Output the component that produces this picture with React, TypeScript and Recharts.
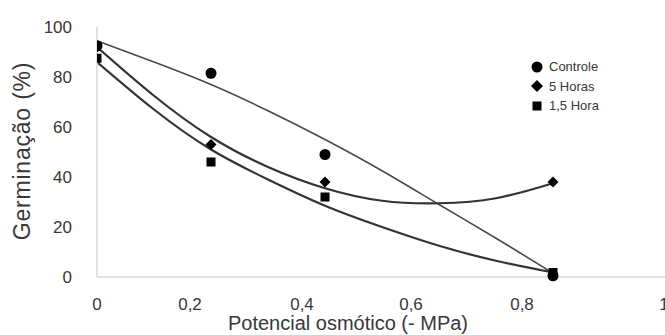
import React from "react";
import { ComposedChart, Line, Scatter, XAxis, YAxis } from "recharts";

// Observed points
const controlePts = [
  { x: 0, y: 92.5 },
  { x: 0.2, y: 81.5 },
  { x: 0.4, y: 49 },
  { x: 0.8, y: 0.5 },
];
const horas5Pts = [
  { x: 0, y: 92 },
  { x: 0.2, y: 53 },
  { x: 0.4, y: 38 },
  { x: 0.8, y: 38 },
];
const hora15Pts = [
  { x: 0, y: 87.5 },
  { x: 0.2, y: 46 },
  { x: 0.4, y: 32 },
  { x: 0.8, y: 1.8 },
];

// Trend curves
const trendX = [0, 0.1, 0.2, 0.3, 0.4, 0.5, 0.6, 0.7, 0.8];
const controleTrend = [94.5, 86, 77, 66.5, 55, 42.5, 29, 15.5, 1.5];
const horas5Trend = [92, 72.5, 56, 44, 35.5, 30.5, 29.5, 31.5, 37.5];
const hora15Trend = [86, 67, 51, 39, 28.5, 20, 12.5, 6.5, 1.8];

const xTicks = [0, 0.2, 0.4, 0.6, 0.8, 1];
const xTickLabels = ["0", "0,2", "0,4", "0,6", "0,8", "1"];
const yTicks = [0, 20, 40, 60, 80, 100];

const seriesNames = ["Controle", "5 Horas", "1,5 Hora"];

const toRows = (ys: number[]) => trendX.map((x, i) => ({ x, y: ys[i] }));

const FONT = "'Liberation Sans', Arial, sans-serif";
const TEXT = "#383838";

const labelShift: Record<string, number> = { "0": 0, "0.2": -21, "0.4": -23, "0.6": -28, "0.8": -31, "1": -3 };

const XTick = (props: any) => {
  const { x, y, payload } = props;
  const i = xTicks.indexOf(payload.value);
  const dx = labelShift[String(payload.value)] ?? 0;
  return (
    <text x={x + dx} y={y} dy="0.35em" textAnchor="middle" fill={TEXT} fontSize={17} fontFamily={FONT}>
      {xTickLabels[i]}
    </text>
  );
};

const YTick = (props: any) => {
  const { x, y, payload } = props;
  return (
    <text x={x} y={y} dy="0.38em" textAnchor="end" fill={TEXT} fontSize={17} fontFamily={FONT}>
      {payload.value}
    </text>
  );
};

const Dot = (props: any) => <circle cx={props.cx} cy={props.cy} r={5.5} fill="#000" />;
const Diamond = (props: any) => (
  <path
    d={`M${props.cx},${props.cy - 5.5} L${props.cx + 5.5},${props.cy} L${props.cx},${props.cy + 5.5} L${props.cx - 5.5},${props.cy} Z`}
    fill="#000"
  />
);
const Square = (props: any) => (
  <rect x={props.cx - 4.5} y={props.cy - 4.5} width={9} height={9} fill="#000" />
);

const LegendBox = () => (
  <div style={{ position: "absolute", left: 530, top: 57, fontFamily: FONT, fontSize: 13, color: TEXT, lineHeight: "19.5px" }}>
    {seriesNames.map((n, i) => (
      <div key={n} style={{ display: "flex", alignItems: "center" }}>
        <svg width={14} height={14} style={{ marginRight: 5 }}>
          {i === 0 && <circle cx={7} cy={7} r={5.5} fill="#000" />}
          {i === 1 && <path d="M7,1 L13,7 L7,13 L1,7 Z" fill="#000" />}
          {i === 2 && <rect x={2.5} y={2.5} width={9} height={9} fill="#000" />}
        </svg>
        <span>{n}</span>
      </div>
    ))}
  </div>
);

export default function App() {
  return (
    <div style={{ position: "absolute", left: 0, top: 0, width: 665, height: 335, overflow: "hidden", background: "#fff" }}>
      <ComposedChart width={680} height={335} margin={{ top: 27, right: 13, bottom: 28, left: 37 }}>
        <XAxis
          type="number"
          dataKey="x"
          domain={[0, 1]}
          ticks={xTicks}
          tick={<XTick />}
          tickLine={false}
          tickSize={0}
          tickMargin={27}
          height={30}
          axisLine={{ stroke: "#d9d9d9", strokeWidth: 1.5 }}
          allowDataOverflow
        />
        <YAxis
          type="number"
          dataKey="y"
          domain={[0, 100]}
          ticks={yTicks}
          tick={<YTick />}
          tickLine={false}
          tickSize={0}
          tickMargin={25}
          width={60}
          axisLine={{ stroke: "#d9d9d9", strokeWidth: 1.5 }}
        />
        <Line data={toRows(controleTrend)} dataKey="y" type="natural" stroke="#4a4a4a" strokeWidth={1.6} dot={false} isAnimationActive={false} legendType="none" />
        <Line data={toRows(horas5Trend)} dataKey="y" type="natural" stroke="#333" strokeWidth={2.2} dot={false} isAnimationActive={false} legendType="none" />
        <Line data={toRows(hora15Trend)} dataKey="y" type="natural" stroke="#333" strokeWidth={2.2} dot={false} isAnimationActive={false} legendType="none" />
        <Scatter name={seriesNames[0]} data={controlePts} dataKey="y" shape={<Dot />} isAnimationActive={false} />
        <Scatter name={seriesNames[1]} data={horas5Pts} dataKey="y" shape={<Diamond />} isAnimationActive={false} />
        <Scatter name={seriesNames[2]} data={hora15Pts} dataKey="y" shape={<Square />} isAnimationActive={false} />
        <text x={348} y={330} textAnchor="middle" fill={TEXT} fontSize={20} fontFamily={FONT}>
          Potencial osmótico (- MPa)
        </text>
        <text
          x={0}
          y={0}
          transform="translate(22,151) rotate(-90)"
          textAnchor="middle"
          dominantBaseline="central"
          fill={TEXT}
          fontSize={23}
          letterSpacing={0.8}
          fontFamily={FONT}
        >
          Germinação (%)
        </text>
      </ComposedChart>
      <LegendBox />
    </div>
  );
}
